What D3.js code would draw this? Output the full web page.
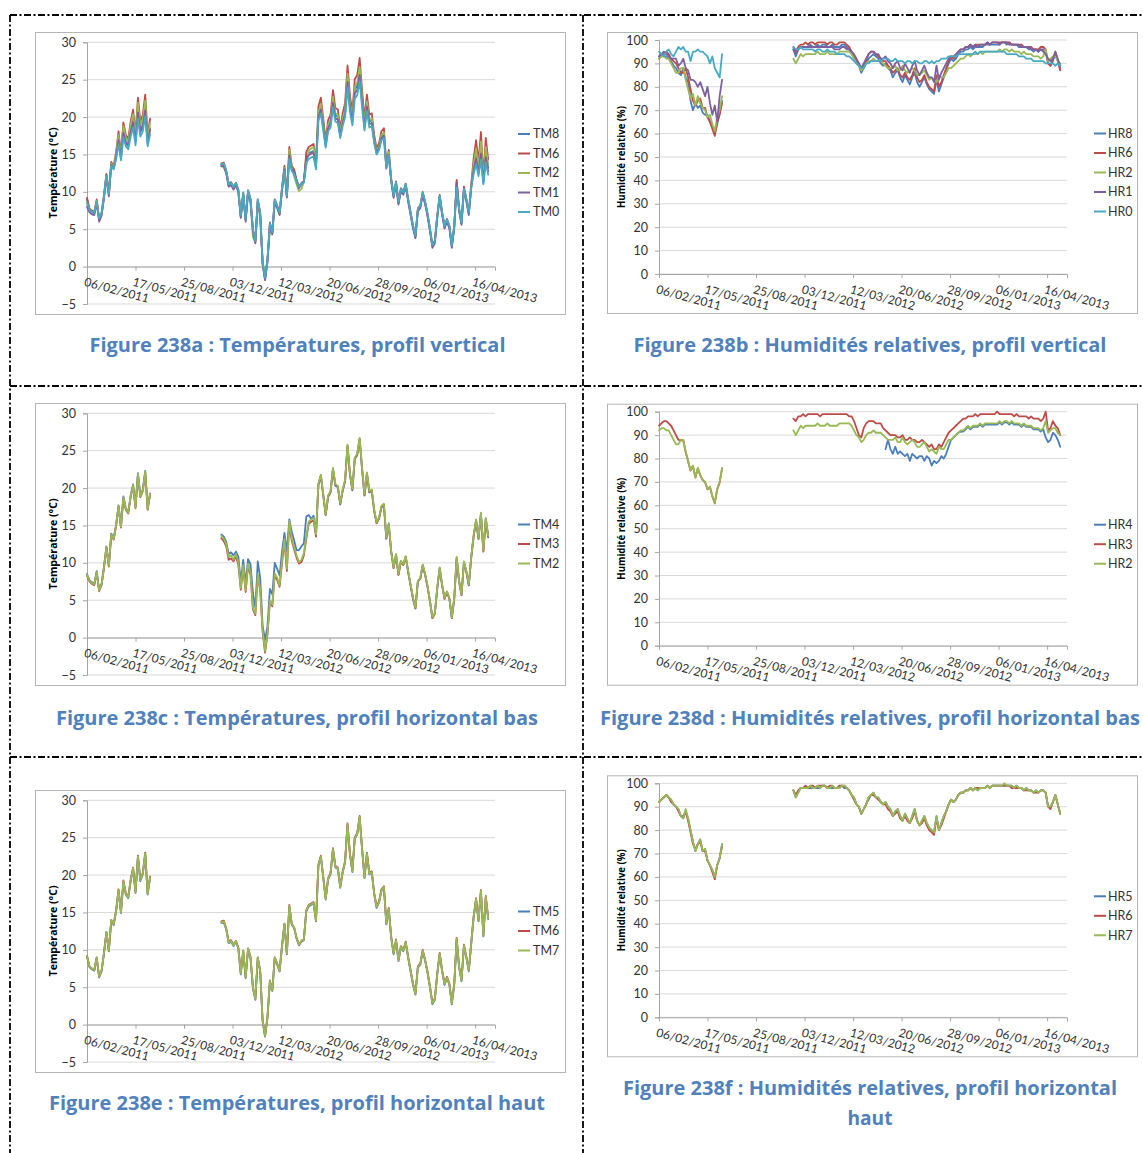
<!DOCTYPE html>
<html><head><meta charset="utf-8">
<script src="https://cdn.jsdelivr.net/npm/d3@7"></script>
<style>body{margin:0;background:#fff}svg{display:block}</style>
</head><body>
<svg id="chart" width="1143" height="1153"></svg>
<script>
// ---------------- DATA ----------------
const seg1Start = "2011-02-06";   // first measuring period
const seg2Start = "2011-11-10";   // second measuring period
const stepDays = 5;               // one reading every 5 days
const xDomain = ["2011-02-06", "2013-05-27"];
const xTickDates = ["2011-02-06","2011-05-17","2011-08-25","2011-12-03","2012-03-12","2012-06-20","2012-09-28","2013-01-06","2013-04-16"];
const tempTicks = [-5,0,5,10,15,20,25,30];
const humTicks = [0,10,20,30,40,50,60,70,80,90,100];

// Temperatures (°C)
const TM8_1 = [9.0,7.6,7.3,7.1,8.8,6.3,7.0,9.4,12.3,9.7,13.7,13.2,14.7,17.1,14.6,18.1,16.7,16.3,18.2,19.6,16.9,20.9,18.2,19.0,21.3,16.7,18.5];
const TM8_2 = [13.5,13.6,12.6,10.9,11.0,10.5,11.0,10.1,6.7,9.7,6.2,10.0,8.9,4.8,3.3,8.8,7.0,0.4,-1.6,0.8,5.6,4.5,8.8,8.0,7.0,10.3,
 13.1,9.4,15.2,13.1,12.7,11.5,10.6,11.1,11.3,14.6,15.2,15.3,15.5,13.5,
 20.4,21.5,18.9,16.3,18.8,19.4,22.4,20.2,20.0,17.8,19.6,20.8,25.3,21.7,19.7,23.7,24.2,26.2,22.4,18.9,21.8,19.4,19.6,17.0,15.3,16.0,17.4,17.8,
 13.3,15.1,11.6,9.4,11.2,8.5,10.3,9.8,10.9,8.9,7.1,5.3,4.0,7.6,8.0,9.8,8.5,6.9,4.9,2.7,3.3,6.7,9.4,7.1,5.3,6.2,5.3,2.7,5.3,11.3,7.6,5.8,10.4,8.9,7.1,
 10.7,13.3,15.1,12.9,15.9,11.4,15.3,13.2];

const TM6_1 = [9.2,7.8,7.5,7.3,9.0,6.4,7.2,9.6,12.4,9.9,14.0,13.4,15.3,18.1,15.1,19.3,17.6,17.1,19.4,21.0,17.8,22.6,19.4,20.3,23.0,17.6,19.8];
const TM6_2 = [13.8,13.9,12.9,11.1,11.3,10.7,11.2,10.3,6.9,9.9,6.4,10.2,9.1,5.0,3.5,9.0,7.2,0.6,-1.5,1.0,5.9,4.6,9.0,8.2,7.2,10.6,
 13.5,9.5,16.0,13.5,13.0,11.6,10.7,11.2,11.4,15.3,16.0,16.2,16.4,13.9,
 21.4,22.6,19.8,16.9,19.6,20.3,23.6,21.2,21.0,18.5,20.5,21.9,26.9,22.9,20.6,25.1,25.6,27.9,23.6,19.8,23.0,20.3,20.5,17.6,15.8,16.5,18.1,18.5,
 13.6,15.6,11.8,9.6,11.4,8.7,10.5,10.0,11.1,9.1,7.3,5.5,4.2,7.8,8.2,10.0,8.7,7.1,5.1,2.9,3.5,6.9,9.6,7.3,5.5,6.4,5.5,2.9,5.5,11.6,7.8,6.0,10.7,9.1,7.3,
 11.0,14.5,16.9,14.0,18.0,12.0,17.2,14.3];

const TM2_1 = [8.4,7.6,7.3,7.1,8.8,6.3,7.1,9.4,12.1,9.6,13.8,13.2,15.0,17.6,14.8,18.8,17.2,16.7,18.9,20.4,17.4,21.9,18.9,19.7,22.2,17.2,19.2];
const TM2_2 = [13.6,13.2,12.5,10.8,11.0,10.4,11.2,10.0,6.6,9.7,6.3,9.9,8.7,4.0,3.2,8.5,6.5,1.0,-1.8,0.6,5.0,4.4,8.6,8.0,7.0,10.3,
 13.2,9.2,15.6,13.3,12.1,11.0,10.1,10.4,11.3,13.5,15.5,15.8,16.0,13.8,
 20.6,21.8,19.2,16.5,19.0,19.6,22.7,20.5,20.3,18.0,19.8,21.1,25.8,22.0,19.9,24.1,24.6,26.7,22.7,19.2,22.1,19.6,19.8,17.1,15.4,16.1,17.6,17.9,
 13.4,15.3,11.6,9.4,11.2,8.5,10.3,9.8,10.9,8.9,7.1,5.3,4.0,7.6,8.0,9.8,8.5,6.9,4.9,2.7,3.3,6.7,9.4,7.1,5.3,6.2,5.3,2.7,5.3,10.8,7.6,5.8,10.2,8.9,7.1,
 10.8,13.7,15.8,13.3,16.7,11.6,16.0,13.6];

const TM1_1 = [8.0,7.3,7.0,6.9,8.5,6.0,6.8,9.1,11.9,9.4,13.6,13.1,14.6,16.9,14.5,17.9,16.5,16.1,18.0,19.3,16.7,20.6,18.0,18.7,20.9,16.5,18.3];
const TM1_2 = [13.4,13.5,12.5,10.7,10.9,10.3,10.9,9.9,6.5,9.6,6.0,9.9,8.7,4.7,3.1,8.7,6.9,0.2,-1.8,0.7,5.5,4.3,8.7,7.8,6.9,10.2,
 13.0,9.3,14.9,13.0,12.6,11.5,10.5,11.0,11.3,14.4,14.9,15.1,15.2,13.3,
 20.0,21.0,18.6,16.1,18.5,19.1,21.9,19.8,19.7,17.5,19.2,20.4,24.7,21.3,19.3,23.2,23.6,25.6,21.9,18.6,21.4,19.1,19.2,16.7,15.2,15.8,17.2,17.5,
 13.1,14.9,11.4,9.2,11.0,8.3,10.1,9.6,10.7,8.7,6.9,5.1,3.8,7.4,7.8,9.6,8.3,6.7,4.7,2.5,3.1,6.5,9.2,6.9,5.1,6.0,5.1,2.5,5.1,11.2,7.4,5.6,10.3,8.7,6.9,
 10.6,12.9,14.4,12.5,15.1,11.2,14.6,12.7];

const TM0_1 = [8.6,7.6,7.3,7.2,8.7,6.5,7.1,9.3,12.2,9.7,13.5,13.0,14.4,16.4,14.2,17.3,16.1,15.7,17.4,18.6,16.2,19.8,17.4,18.1,20.1,16.1,17.7];
const TM0_2 = [13.7,13.8,12.8,11.0,11.2,10.6,11.2,10.2,6.8,9.9,6.3,10.2,9.0,5.0,3.4,9.0,7.2,0.5,-1.5,1.0,5.8,4.6,9.0,8.1,7.2,10.5,
 12.8,9.5,14.4,12.8,12.4,11.4,10.7,11.1,11.3,13.9,14.4,14.6,14.7,13.0,
 19.5,20.5,18.2,15.9,18.1,18.6,21.3,19.4,19.2,17.2,18.8,20.0,24.0,20.7,18.9,22.5,22.9,24.8,21.3,18.2,20.8,18.6,18.8,16.5,15.0,15.6,16.9,17.2,
 13.2,14.8,11.6,9.5,11.3,8.6,10.4,9.9,11.0,9.0,7.2,5.4,4.1,7.7,8.1,9.9,8.6,7.0,5.0,2.8,3.4,6.8,9.5,7.2,5.4,6.3,5.4,2.8,5.4,10.6,7.7,5.9,10.4,9.0,7.2,
 10.5,12.4,13.7,12.1,14.3,11.0,13.9,12.3];

const TM4_1 = [8.5,7.7,7.4,7.2,8.9,6.4,7.2,9.5,12.2,9.7,13.9,13.3,15.1,17.7,14.9,18.9,17.3,16.8,19.0,20.5,17.5,22.0,19.0,19.8,22.3,17.3,19.3];
const TM4_2 = [13.8,13.5,12.8,11.2,11.4,11.0,11.5,10.8,7.4,10.4,7.2,10.5,9.8,6.0,4.0,10.2,8.0,1.6,-0.3,1.5,6.5,5.8,10.0,9.2,8.3,11.5,
 14.0,11.5,15.8,14.2,13.0,11.7,11.7,12.2,12.6,16.2,16.4,15.9,16.3,14.0,
 20.4,21.6,19.0,16.4,18.8,19.4,22.5,20.3,20.1,17.8,19.6,20.9,25.6,21.8,19.7,23.9,24.4,26.5,22.5,19.0,21.9,19.4,19.6,16.9,15.3,15.9,17.4,17.7,
 13.2,15.1,11.5,9.3,11.0,8.4,10.2,9.7,10.8,8.8,7.0,5.2,3.9,7.5,7.9,9.6,8.4,6.8,4.8,2.6,3.2,6.6,9.3,7.0,5.2,6.1,5.2,2.6,5.2,10.6,7.5,5.7,10.1,8.8,7.0,
 10.8,13.5,15.6,13.2,16.5,11.6,15.8,13.4];

const TM3_1 = [8.3,7.5,7.2,7.0,8.7,6.2,7.0,9.3,12.0,9.5,13.7,13.1,14.9,17.5,14.7,18.7,17.1,16.6,18.8,20.3,17.3,21.8,18.8,19.6,22.1,17.1,19.1];
const TM3_2 = [13.3,12.9,12.2,10.4,10.6,10.2,10.9,9.7,6.4,9.4,6.1,9.6,8.4,3.8,3.0,8.3,6.3,0.8,-2.0,0.4,4.8,4.2,8.4,7.7,6.8,10.0,
 12.9,8.9,15.3,13.0,11.8,10.7,9.9,10.1,11.0,13.2,15.2,15.5,15.7,13.5,
 20.5,21.7,19.1,16.4,18.9,19.5,22.6,20.4,20.2,17.9,19.7,21.0,25.7,21.9,19.8,24.0,24.5,26.6,22.6,19.1,22.0,19.5,19.7,17.0,15.3,16.0,17.5,17.8,
 13.3,15.2,11.5,9.3,11.1,8.4,10.2,9.7,10.8,8.8,7.0,5.2,3.9,7.5,7.9,9.7,8.4,6.8,4.8,2.6,3.2,6.6,9.3,7.0,5.2,6.1,5.2,2.6,5.2,10.7,7.5,5.7,10.1,8.8,7.0,
 10.7,13.6,15.7,13.2,16.6,11.5,15.9,13.5];

const TM5_1 = [9.1,7.7,7.4,7.2,8.9,6.3,7.1,9.5,12.3,9.8,13.9,13.3,15.1,17.9,14.9,19.1,17.4,16.9,19.2,20.8,17.6,22.4,19.2,20.1,22.8,17.4,19.6];
const TM5_2 = [13.6,13.7,12.7,10.9,11.1,10.5,11.1,10.1,6.7,9.8,6.2,10.1,8.9,4.9,3.3,8.9,7.1,0.4,-1.6,0.9,5.7,4.5,8.9,8.0,7.1,10.4,
 13.4,9.4,15.8,13.4,12.9,11.5,10.6,11.1,11.3,15.1,15.8,16.0,16.2,13.8,
 21.2,22.4,19.6,16.7,19.4,20.1,23.4,21.0,20.8,18.3,20.3,21.7,26.7,22.7,20.4,24.9,25.4,27.7,23.4,19.6,22.8,20.1,20.3,17.4,15.6,16.3,17.9,18.3,
 13.4,15.4,11.6,9.4,11.2,8.5,10.3,9.8,10.9,8.9,7.1,5.3,4.0,7.6,8.0,9.8,8.5,6.9,4.9,2.7,3.3,6.7,9.4,7.1,5.3,6.2,5.3,2.7,5.3,11.4,7.6,5.8,10.5,8.9,7.1,
 10.8,14.3,16.7,13.8,17.8,11.8,17.0,14.1];

const TM7_1 = [9.2,7.8,7.5,7.3,9.0,6.4,7.2,9.6,12.4,9.9,14.0,13.4,15.2,18.0,15.0,19.2,17.5,17.0,19.3,20.9,17.7,22.5,19.3,20.2,22.9,17.5,19.7];
const TM7_2 = [13.7,13.8,12.8,11.0,11.2,10.6,11.2,10.2,6.8,9.9,6.3,10.2,9.0,5.0,3.4,9.0,7.2,0.5,-1.5,1.0,5.8,4.6,9.0,8.1,7.2,10.5,
 13.5,9.5,15.9,13.5,13.0,11.6,10.7,11.2,11.4,15.2,15.9,16.1,16.3,13.9,
 21.3,22.5,19.7,16.8,19.5,20.2,23.5,21.1,20.9,18.4,20.4,21.8,26.8,22.8,20.5,25.0,25.5,27.8,23.5,19.7,22.9,20.2,20.4,17.5,15.7,16.4,18.0,18.4,
 13.5,15.5,11.7,9.5,11.3,8.6,10.4,9.9,11.0,9.0,7.2,5.4,4.1,7.7,8.1,9.9,8.6,7.0,5.0,2.8,3.4,6.8,9.5,7.2,5.4,6.3,5.4,2.8,5.4,11.5,7.7,5.9,10.6,9.0,7.2,
 10.9,14.4,16.8,13.9,17.9,11.9,17.1,14.2];

// Relative humidity (%)
const HR8_1 = [93,94,93,93,92,91,89,88,86,85,88,84,82,74,70,73,71,72,69,68,68,65,63,60,64,69,74];
const HR8_2 = [96,93,96,97,97,97,97,98,97,97,98,97,98,98,97,97,98,97,97,97,98,98,97,96,
 94,93,90,89,86,88,90,92,93,94,93,92,90,89,90,88,87,84,86,87,84,82,85,83,81,84,86,82,80,82,
 84,81,79,78,77,83,78,81,84,87,90,92,91,92,94,95,95,96,96,97,96,97,97,97,97,98,98,98,98,98,
 98,98,99,99,98,99,98,98,98,97,97,97,97,96,96,95,96,95,96,96,95,90,89,91,94,91,88];

const HR6_1 = [92,93,94,95,94,92,91,90,88,86,86,88,84,79,74,72,74,75,71,71,67,65,62,59,65,68,73];
const HR6_2 = [97,95,97,98,98,99,98,99,99,98,99,99,99,99,98,99,99,98,98,99,99,99,98,97,95,93,91,90,87,89,
 91,94,95,95,94,93,92,91,91,89,88,86,87,88,85,84,86,84,83,85,88,84,82,83,85,82,80,79,78,85,
 80,82,85,88,91,93,92,93,95,96,96,97,97,98,97,98,98,98,98,98,99,98,99,99,99,99,99,99,99,99,
 98,98,98,98,98,97,97,97,97,96,96,96,97,97,96,90,89,92,95,91,87];

const HR2_1 = [92,93,93,92,92,90,88,86,86,88,88,83,79,75,77,72,76,73,71,70,67,68,64,61,67,70,76];
const HR2_2 = [92,90,92,94,93,94,94,94,94,94,95,94,94,94,95,94,94,94,94,95,95,95,95,95,94,92,90,89,87,88,
 90,91,91,92,91,91,91,90,89,88,88,88,89,87,87,89,87,86,87,88,87,85,85,86,87,85,83,84,83,82,
 85,84,84,86,88,88,89,90,91,92,92,93,94,93,94,94,94,95,94,95,95,95,95,95,95,96,95,96,96,95,
 96,95,95,95,94,95,94,94,94,93,93,93,92,93,96,91,92,93,93,91,90];

const HR1_1 = [93,94,95,94,93,92,92,92,89,90,92,88,87,83,83,82,80,82,79,76,80,73,68,72,65,76,83];
const HR1_2 = [96,94,96,97,97,97,97,97,97,97,97,97,97,97,97,97,97,96,96,96,97,97,96,96,95,94,92,90,88,90,
 92,94,95,95,94,94,92,92,93,91,90,88,90,91,88,87,90,88,86,89,91,87,85,87,89,86,84,84,82,89,
 83,86,88,90,92,93,93,94,95,96,96,97,97,98,97,98,97,98,98,98,99,98,99,99,99,98,99,99,99,98,
 98,98,98,98,97,97,97,97,96,96,96,95,96,95,94,92,91,92,95,92,89];

const HR0_1 = [95,94,93,95,96,94,93,95,97,96,97,95,95,91,95,95,96,95,95,94,93,90,93,88,86,84,94];
const HR0_2 = [97,96,96,97,96,96,96,96,96,95,96,96,95,95,96,95,95,95,94,94,94,94,93,93,92,91,90,89,88,88,
 90,90,91,91,91,91,91,92,92,92,91,91,92,91,91,91,90,91,91,90,91,91,90,90,91,91,90,91,90,91,
 91,92,92,92,93,93,93,93,94,94,94,94,94,94,94,95,94,95,95,95,95,95,95,95,95,95,95,95,94,94,
 94,94,94,93,93,93,92,92,92,91,91,91,91,91,90,90,90,90,89,90,89];

const HR4_1 = [null,null,null,null,null,null,null,null,null,null,null,null,null,null,null,null,null,null,null,null,null,null,null,null,null,null,null];
const HR4_2 = [null,null,null,null,null,null,null,null,null,null,null,null,null,null,null,null,null,null,null,null,
 null,null,null,null,null,null,null,null,null,null,null,null,null,null,null,null,null,null,
 84,88,84,82,85,82,83,82,81,82,79,82,81,80,81,81,79,81,80,77,79,78,79,81,80,82,85,88,89,90,91,
 91.5,91.5,92.5,93.5,92.5,93.5,93.5,93.5,94.5,93.5,94.5,94.5,94.5,94.5,94.5,94.5,95.5,94.5,95.5,95.5,
 94.5,95.5,94.5,94.5,94.5,93.5,94.5,93.5,93.5,93.5,92.5,92.5,92.5,91.5,92.5,
 89,87,88,91,90,88,85];

const HR3_1 = [94,95,96,96,95,94,92,90,88,87.8,87.8,82.8,78.8,74.8,76.8,71.8,75.8,72.8,70.8,69.8,66.8,67.8,63.8,60.8,66.8,69.8,75.8];
const HR3_2 = [97,96,98,98,99,98,99,99,99,99,99,98,99,99,99,99,99,99,99,99,99,99,99,98,98,96,93,90,89,93,
 95,96,96,96,95,95,95,93,92,91,90,90,90,89,89,90,88,88,89,88,88,87,87,88,87,86,85,86,84,84,
 86,85,87,89,91,92,93,94,95,96,97,97,98,98,98,99,98,99,99,99,99,99,99,99,100,99,99,99,99,99,
 99,98,99,98,98,98,98,97,98,97,97,97,96,97,100,92,93,96,94,93,90];

const HR5_1 = [92,93,94,95,94,93,91,90,89,86,85,88,85,80,75,71,74,76,71,72,67,65,63,60,65,68,74];
const HR5_2 = [97,94,96,98,98,98,98,98,98,98,98,98,99,99,98,98,98,98,98,98,99,98,98,97,95,94,91,90,87,89,
 91,93,95,96,94,94,92,91,92,90,89,86,88,89,86,84,87,85,83,86,89,84,82,84,86,83,81,80,79,86,
 80,83,86,88,91,93,92,93,95,96,96,97,97,98,97,98,97,98,98,98,99,98,99,99,99,99,99,99,99,99,
 99,98,99,98,98,97,98,97,97,96,97,96,97,97,96,90,90,92,95,91,87];

const HR7_1 = [92,93,94,95,94,93,91,90,89,86,85,89,85,80,75,71,74,76,71,72,67,65,63,60,65,68,74];
const HR7_2 = [97,94,96,98,98,98,98,99,98,98,99,98,99,99,98,98,99,98,98,98,99,99,98,97,95,94,91,90,87,89,
 91,94,95,96,94,94,92,91,92,90,89,86,88,89,86,84,87,85,83,86,89,84,82,84,86,83,81,80,79,86,
 80,83,86,88,91,93,92,93,95,96,96,97,97,98,97,98,97,98,98,98,99,98,99,99,99,99,99,100,99,99,
 99,98,99,98,98,97,98,97,97,96,97,96,97,97,96,90,90,92,95,91,87];

// ---------------- STYLE / LAYOUT ----------------
const COL = {blue:"#4a7ebb", red:"#be4b48", green:"#98b954", purple:"#7d60a0", cyan:"#46aac5"};
const FONT = "Lato, 'Open Sans', 'DejaVu Sans', sans-serif";
const BOLD = "'Open Sans', 'Noto Sans', 'DejaVu Sans', sans-serif";

const panels = [
  {col:0, off:0, kind:"T", series:[["TM8",TM8_1,TM8_2,COL.blue],["TM6",TM6_1,TM6_2,COL.red],["TM2",TM2_1,TM2_2,COL.green],["TM1",TM1_1,TM1_2,COL.purple],["TM0",TM0_1,TM0_2,COL.cyan]],
   caps:[["Figure 238a : Températures, profil vertical",297.5,351.5,416]]},
  {col:1, off:0, kind:"H", series:[["HR8",HR8_1,HR8_2,COL.blue],["HR6",HR6_1,HR6_2,COL.red],["HR2",HR2_1,HR2_2,COL.green],["HR1",HR1_1,HR1_2,COL.purple],["HR0",HR0_1,HR0_2,COL.cyan]],
   caps:[["Figure 238b : Humidités relatives, profil vertical",870,351.5,473]]},
  {col:0, off:371, kind:"T", series:[["TM4",TM4_1,TM4_2,COL.blue],["TM3",TM3_1,TM3_2,COL.red],["TM2",TM2_1,TM2_2,COL.green]],
   caps:[["Figure 238c : Températures, profil horizontal bas",297,724.5,482]]},
  {col:1, off:371.7, kind:"H", series:[["HR4",HR4_1,HR4_2,COL.blue],["HR3",HR3_1,HR3_2,COL.red],["HR2",HR2_1,HR2_2,COL.green]],
   caps:[["Figure 238d : Humidités relatives, profil horizontal bas",870,724.5,540]]},
  {col:0, off:758, kind:"T", series:[["TM5",TM5_1,TM5_2,COL.blue],["TM6",TM6_1,TM6_2,COL.red],["TM7",TM7_1,TM7_2,COL.green]],
   caps:[["Figure 238e : Températures, profil horizontal haut",297,1110,496]]},
  {col:1, off:743.3, kind:"H", series:[["HR5",HR5_1,HR5_2,COL.blue],["HR6",HR6_1,HR6_2,COL.red],["HR7",HR7_1,HR7_2,COL.green]],
   caps:[["Figure 238f : Humidités relatives, profil horizontal",870,1095,494],["haut",870,1125,45]]}
];

const geo = [
  {box:[35,32,530,282], x0:87, x1:495, yr:[304,42.3], titleX:53, titleY:173, titleLen:91, legLine:518, legText:533, title:"Température (°C)"},
  {box:[607,32,530,281], x0:659, x1:1067, yr:[274,40], titleX:621, titleY:157, titleLen:102, legLine:1094, legText:1108, title:"Humidité relative (%)"}
];

const parseD = d3.utcParse("%Y-%m-%d");
const fmt = d3.utcFormat("%d/%m/%Y");
function toPoints(arr, start){
  const s = parseD(start);
  return arr.map((v,i)=>({d:d3.utcDay.offset(s, i*stepDays), v:v}));
}

const svg = d3.select("#chart");
svg.append("rect").attr("width",1143).attr("height",1153).attr("fill","#fff");

// dashed frame
const frame = svg.append("g").attr("stroke","#000").attr("stroke-width",1.8).attr("stroke-dasharray","7,2.5,2,2.5").attr("fill","none");
[[10,15,1143,15],[10,15,10,1153],[583,15,583,1153],[10,386,1143,386],[10,757,1143,757]].forEach(l=>{
  frame.append("line").attr("x1",l[0]).attr("y1",l[1]).attr("x2",l[2]).attr("y2",l[3]);
});

panels.forEach(p=>{
  const g = geo[p.col];
  const off = p.off;
  const G = svg.append("g");
  // chart box
  G.append("rect").attr("x",g.box[0]+0.5).attr("y",g.box[1]+off+0.5).attr("width",g.box[2]).attr("height",g.box[3])
    .attr("fill","#fff").attr("stroke","#b5b5b5").attr("stroke-width",1);

  const x = d3.scaleUtc().domain(xDomain.map(parseD)).range([g.x0,g.x1]);
  const ticks = p.kind==="T" ? tempTicks : humTicks;
  const y = d3.scaleLinear().domain(p.kind==="T"?[-5,30]:[0,100]).range([g.yr[0]+off, g.yr[1]+off]);

  // gridlines
  G.append("g").selectAll("line").data(ticks).join("line")
    .attr("x1",g.x0).attr("x2",g.x1).attr("y1",d=>y(d)).attr("y2",d=>y(d))
    .attr("stroke","#d9d9d9").attr("stroke-width",1);

  // y axis
  const ya = G.append("g").attr("transform",`translate(${g.x0},0)`)
    .call(d3.axisLeft(y).tickValues(ticks).tickSize(4).tickPadding(7).tickFormat(d3.format("d")));
  ya.select(".domain").attr("stroke","#a6a6a6");
  ya.selectAll(".tick line").attr("stroke","#a6a6a6");
  ya.selectAll("text").attr("font-family",FONT).attr("font-size",12.5).attr("fill","#333");

  // x axis at y=0
  const xa = G.append("g").attr("transform",`translate(0,${y(0)})`)
    .call(d3.axisBottom(x).tickValues(xTickDates.map(parseD)).tickSize(4).tickFormat(fmt));
  xa.select(".domain").attr("stroke","#a6a6a6");
  xa.selectAll(".tick line").attr("stroke","#a6a6a6");
  xa.selectAll("text").attr("x",0).attr("y",0).attr("dy",0)
    .attr("transform","translate(-4,19) rotate(15)").style("text-anchor","start")
    .attr("font-family",FONT).attr("font-size",12).attr("fill","#333");

  // y title
  G.append("text").attr("transform",`translate(${g.titleX},${g.titleY+off}) rotate(-90)`)
    .attr("text-anchor","middle").attr("dy","0.35em")
    .attr("font-family",BOLD).attr("font-weight","bold").attr("font-size",10.5).attr("fill","#000")
    .attr("textLength",g.titleLen).attr("lengthAdjust","spacingAndGlyphs")
    .text(g.title);

  // series
  const line = d3.line().defined(d=>d.v!=null).x(d=>x(d.d)).y(d=>y(d.v));
  p.series.forEach(s=>{
    [[s[1],seg1Start],[s[2],seg2Start]].forEach(seg=>{
      G.append("path").datum(toPoints(seg[0],seg[1])).attr("d",line)
        .attr("fill","none").attr("stroke",s[3]).attr("stroke-width",1.8)
        .attr("stroke-linejoin","round").attr("stroke-linecap","round");
    });
  });

  // legend
  const cy = g.box[1] + off + g.box[3]/2;
  const n = p.series.length;
  p.series.forEach((s,i)=>{
    const ly = cy + (i-(n-1)/2)*19.5;
    G.append("line").attr("x1",g.legLine).attr("x2",g.legLine+12).attr("y1",ly).attr("y2",ly)
      .attr("stroke",s[3]).attr("stroke-width",2);
    G.append("text").attr("x",g.legText).attr("y",ly).attr("dy","0.35em")
      .attr("font-family",FONT).attr("font-size",12.5).attr("fill","#333").text(s[0]);
  });

  // captions
  p.caps.forEach(c=>{
    svg.append("text").attr("x",c[1]).attr("y",c[2]).attr("text-anchor","middle")
      .attr("font-family",BOLD).attr("font-weight","bold").attr("font-size",19).attr("fill","#4f81bd")
      .attr("textLength",c[3]).attr("lengthAdjust","spacingAndGlyphs").text(c[0]);
  });
});
</script>
</body></html>
